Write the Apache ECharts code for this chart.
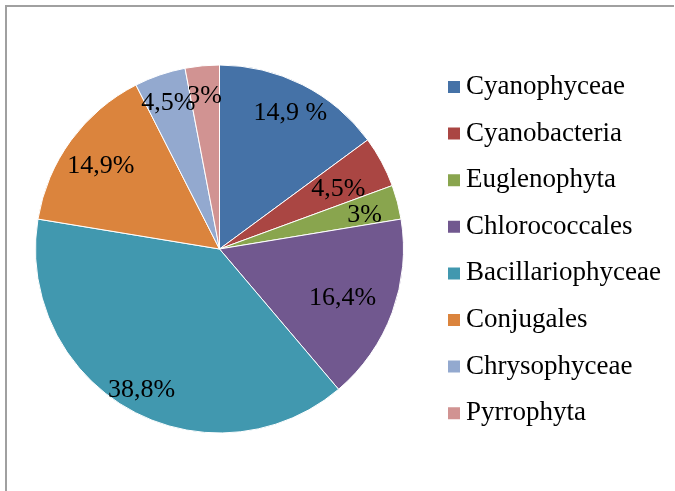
<!DOCTYPE html>
<html>
<head>
<meta charset="utf-8">
<script src="https://cdn.jsdelivr.net/npm/echarts@6/dist/echarts.min.js"></script>
<style>
  html, body { margin: 0; padding: 0; background: #fff; }
  #chart { width: 675px; height: 491px; }
</style>
</head>
<body>
<div id="chart"></div>
<script>
const names = ["Cyanophyceae", "Cyanobacteria", "Euglenophyta", "Chlorococcales",
  "Bacillariophyceae", "Conjugales", "Chrysophyceae", "Pyrrophyta"];
const values = [14.9, 4.5, 3, 16.4, 38.8, 14.9, 4.5, 3];
const labels = ["14,9 %", "4,5%", "3%", "16,4%", "38,8%", "14,9%", "4,5%", "3%"];

const colors = ["#4572a7", "#aa4643", "#89a54e", "#71588f", "#4198af", "#db843d", "#93a9cf", "#d19392"];
// distance of each label from the centre (px)
const labelR = [154, 132, 147, 128, 155, 144, 155, 155];

const font = "Liberation Serif";
const center = [219.5, 249];
const total = values.reduce((s, v) => s + v, 0);

let cum = 0;
const labelData = values.map((v, i) => {
  const mid = (90 - 360 * (cum + v / 2) / total) * Math.PI / 180;
  cum += v;
  const d = labelR[i] - 150;
  return {
    name: names[i],
    value: v,
    // +4: digits sit above the text box centre, nudge them down a bit
    label: { formatter: labels[i], offset: [d * Math.cos(mid), -d * Math.sin(mid) + 4] },
  };
});

const chart = echarts.init(document.getElementById("chart"), null, { renderer: "canvas" });
chart.setOption({
  animation: false,
  color: colors,
  textStyle: { fontFamily: font },
  legend: {
    orient: "vertical",
    left: 446,
    top: 73.5,
    padding: 0,
    icon: "rect",
    itemWidth: 14,
    itemHeight: 14,
    itemGap: 19.6,
    selectedMode: false,
    textStyle: { fontFamily: font, fontSize: 27, lineHeight: 27, color: "#000" },
    data: names,
  },
  graphic: [
    { type: "line", shape: { x1: 5, y1: 6, x2: 674, y2: 6 }, style: { stroke: "#a0a0a0", lineWidth: 2 } },
    { type: "line", shape: { x1: 6, y1: 5, x2: 6, y2: 491 }, style: { stroke: "#a0a0a0", lineWidth: 2 } },
  ],
  series: [
    {
      type: "pie",
      center: center,
      radius: 184,
      startAngle: 90,
      clockwise: true,
      silent: true,
      label: { show: false },
      labelLine: { show: false },
      itemStyle: { borderColor: "#fff", borderWidth: 1 },
      data: names.map((n, i) => ({ name: n, value: values[i] })),
    },
    {
      type: "pie",
      center: center,
      radius: [140, 160],
      startAngle: 90,
      clockwise: true,
      silent: true,
      legendHoverLink: false,
      avoidLabelOverlap: false,
      labelLayout: { hideOverlap: false },
      itemStyle: { color: "rgba(0,0,0,0)" },
      label: { show: true, position: "inside", fontFamily: font, fontSize: 26, color: "#000" },
      labelLine: { show: false },
      data: labelData,
    },
  ],
});
</script>
</body>
</html>
